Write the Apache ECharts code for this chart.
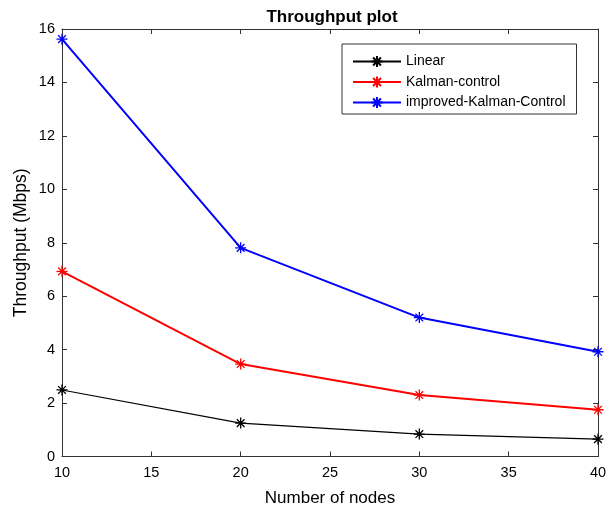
<!DOCTYPE html>
<html>
<head>
<meta charset="utf-8">
<script src="https://cdn.jsdelivr.net/npm/echarts@6/dist/echarts.min.js"></script>
<style>
  html, body { margin: 0; padding: 0; background: #fff; }
  #chart { width: 611px; height: 508px; }
</style>
</head>
<body>
<div id="chart"></div>
<script>
// Throughput against number of nodes for three control schemes
const nodes = [10, 20, 30, 40];
const linear = [2.49, 1.25, 0.84, 0.65];
const kalmanControl = [6.93, 3.46, 2.3, 1.75];
const improvedKalman = [15.62, 7.81, 5.2, 3.92];
const seriesNames = ['Linear', 'Kalman-control', 'improved-Kalman-Control'];
const xTicks = [10, 15, 20, 25, 30, 35, 40];
const yTicks = [0, 2, 4, 6, 8, 10, 12, 14, 16];

const FONT = 'Liberation Sans, Arial, sans-serif';
// asterisk marker: plus sign overlaid with a cross
const STAR = 'path://M0,-10L0,10M-10,0L10,0M-7,-7L7,7M-7,7L7,-7';

function toPairs(values) {
  return nodes.map((n, i) => [n, values[i]]);
}

function lineSeries(name, values, color, width) {
  return {
    name: name,
    type: 'line',
    data: toPairs(values),
    symbol: STAR,
    symbolSize: 11,
    showAllSymbol: true,
    lineStyle: { color: color, width: width },
    itemStyle: { color: 'rgba(0,0,0,0)', borderColor: color, borderWidth: 1.3 },
    emphasis: { disabled: true },
    z: 3
  };
}

const chart = echarts.init(document.getElementById('chart'), null, { renderer: 'canvas' });

const axisCommon = {
  axisLine: { show: true, onZero: false, lineStyle: { color: '#333', width: 1 } },
  axisTick: { show: true, inside: true, length: 5, lineStyle: { color: '#333' } },
  splitLine: { show: false }
};

chart.setOption({
  animation: false,
  backgroundColor: '#fff',
  title: {
    text: 'Throughput plot',
    left: 327,
    textAlign: 'center',
    top: 4,
    textStyle: { fontFamily: FONT, fontSize: 17, fontWeight: 'bold', color: '#000' }
  },
  legend: {
    orient: 'vertical',
    left: 342,
    top: 44,
    padding: [10.5, 11, 4.5, 10],
    itemGap: 6.5,
    itemWidth: 48,
    itemHeight: 14,
    backgroundColor: '#fff',
    borderColor: '#333',
    borderWidth: 1,
    data: seriesNames,
    textStyle: { fontFamily: FONT, fontSize: 14, lineHeight: 14, color: '#000' }
  },
  grid: { left: 62, right: 13, top: 29, bottom: 51.5, containLabel: false, outerBoundsMode: 'none' },
  xAxis: [
    Object.assign({}, axisCommon, {
      type: 'value', min: 10, max: 40, interval: 5, position: 'bottom',
      name: 'Number of nodes', nameLocation: 'middle', nameGap: 33, nameMoveOverlap: false,
      nameTextStyle: { fontFamily: FONT, fontSize: 17, color: '#000' },
      axisLabel: {
        fontFamily: FONT, fontSize: 14.5, color: '#000', margin: 9,
        customValues: xTicks
      }
    }),
    Object.assign({}, axisCommon, {
      type: 'value', min: 10, max: 40, interval: 5, position: 'top',
      axisLabel: { show: false }
    })
  ],
  yAxis: [
    Object.assign({}, axisCommon, {
      type: 'value', min: 0, max: 16, interval: 2, position: 'left',
      name: 'Throughput (Mbps)', nameLocation: 'middle', nameGap: 32, nameMoveOverlap: false,
      nameTextStyle: { fontFamily: FONT, fontSize: 17.5, color: '#000' },
      axisLabel: {
        fontFamily: FONT, fontSize: 14.5, color: '#000', margin: 7,
        customValues: yTicks
      }
    }),
    Object.assign({}, axisCommon, {
      type: 'value', min: 0, max: 16, interval: 2, position: 'right',
      axisLabel: { show: false }
    })
  ],
  series: [
    lineSeries(seriesNames[0], linear, '#000000', 1.2),
    lineSeries(seriesNames[1], kalmanControl, '#ff0000', 2),
    lineSeries(seriesNames[2], improvedKalman, '#0000ff', 2)
  ]
});
</script>
</body>
</html>
